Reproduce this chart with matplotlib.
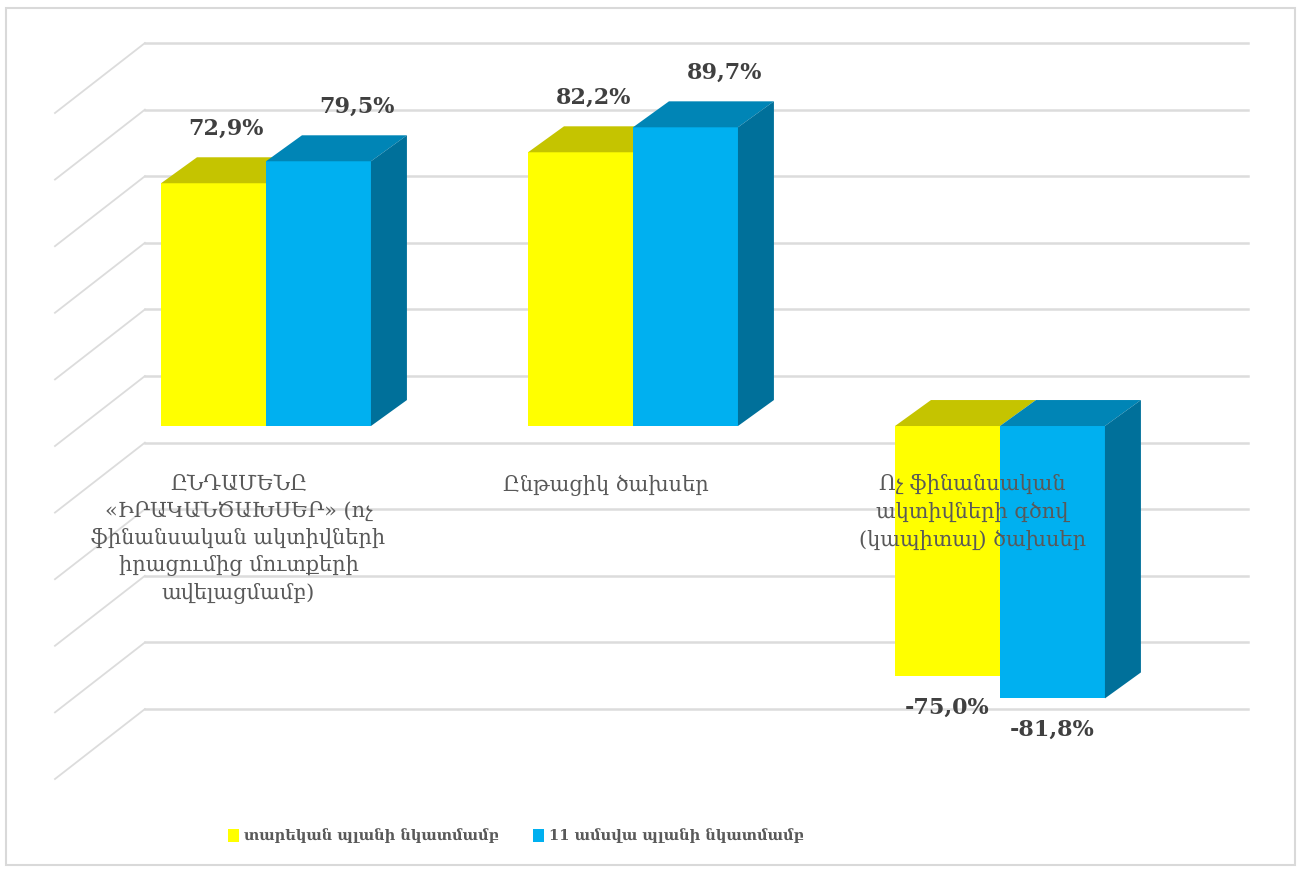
import numpy as np
import matplotlib
matplotlib.use('Agg')
import matplotlib.pyplot as plt
from matplotlib.patches import Polygon, Patch, Rectangle

# data
categories = ['ԸՆԴԱՄԵՆԸ\n«ԻՐԱԿԱՆԾԱԽՍԵՐ» (ոչ\nֆինանսական ակտիվների\nիրացումից մուտքերի\nավելացմամբ)',
              'Ընթացիկ ծախսեր',
              'Ոչ ֆինանսական\nակտիվների գծով\n(կապիտալ) ծախսեր']
annual = [72.9, 82.2, -75.0]
eleven = [79.5, 89.7, -81.8]
series_names = ['տարեկան պլանի նկատմամբ', '11 ամսվա պլանի նկատմամբ']
wall_ticks = [-100, -80, -60, -40, -20, 0, 20, 40, 60, 80, 100]

plt.rcParams['font.family'] = ['DejaVu Serif', 'DejaVu Sans']

yel = dict(front='#FFFF00', top='#C5C400', side='#B0B000')
blu = dict(front='#00B0F0', top='#0085B6', side='#00709A')

W = 0.286          # bar width (category units)
DX, DY = 0.098, 7.8  # bar depth offset
WY = 15.0            # back wall offset
x_wall0, x_wall1 = -0.33, 2.676

fig = plt.figure(figsize=(13.01, 8.69), dpi=100)
ax = fig.add_axes([0, 0, 1, 1])
ax.set_xlim(-0.7248, 2.8202)
ax.set_ylim(-133.03, 127.93)
ax.axis('off')

# outer frame
fig.patches.append(Rectangle((6/1301, 4/869), 1289/1301, 857/869, transform=fig.transFigure,
                             fill=False, ec='#d9d9d9', lw=1.5))

# back wall + side wall gridlines
for g in wall_ticks:
    yw = g + WY
    ax.plot([x_wall0, x_wall1], [yw, yw], color='#dcdcdc', lw=1.8, zorder=1)
    ax.plot([x_wall0, x_wall0 - 0.245], [yw, yw - 21.0], color='#dcdcdc', lw=1.3, zorder=1)

x = np.arange(len(categories))

for i in range(len(categories)):
    # annual (yellow) - front + top
    ax.bar(x[i] - W, annual[i], W, align='edge', color=yel['front'], zorder=3)
    t = max(annual[i], 0)
    ax.add_patch(Polygon([(x[i] - W, t), (x[i], t), (x[i] + DX, t + DY), (x[i] - W + DX, t + DY)],
                         closed=True, fc=yel['top'], ec='none', zorder=3))
    # 11 months (blue) - front + top + side
    ax.bar(x[i], eleven[i], W, align='edge', color=blu['front'], zorder=4)
    t = max(eleven[i], 0)
    ax.add_patch(Polygon([(x[i], t), (x[i] + W, t), (x[i] + W + DX, t + DY), (x[i] + DX, t + DY)],
                         closed=True, fc=blu['top'], ec='none', zorder=4))
    ax.add_patch(Polygon([(x[i] + W, 0), (x[i] + W, eleven[i]), (x[i] + W + DX, eleven[i] + DY),
                          (x[i] + W + DX, DY)], closed=True, fc=blu['side'], ec='none', zorder=4))

def fmt(v):
    return '{:.1f}%'.format(v).replace('.', ',')

for i in range(len(categories)):
    for v, xc, off in [(annual[i], x[i] - W / 2, 0.035), (eleven[i], x[i] + W / 2, 0.106)]:
        if v >= 0:
            ax.text(xc + off, v + 16.3, fmt(v), ha='center', va='center', fontsize=16,
                    fontweight='bold', color='#404040', zorder=6)
        else:
            ax.text(xc, v - 9.5, fmt(v), ha='center', va='center', fontsize=16,
                    fontweight='bold', color='#404040', zorder=6)

for i, lab in enumerate(categories):
    ax.text(x[i] - 0.075, -14.5, lab, ha='center', va='top', fontsize=15, color='#595959',
            linespacing=1.45, zorder=7)

handles = [Patch(fc=yel['front'], ec='none'), Patch(fc=blu['front'], ec='none')]
leg = fig.legend(handles, series_names, loc='center', bbox_to_anchor=(516/1301, 1 - 836/869), ncol=2,
                 frameon=False, prop=dict(weight='bold', size=10.5),
                 labelcolor='#595959', handlelength=0.75, handleheight=1.0,
                 handletextpad=0.35, columnspacing=2.3)

fig.savefig('out.png', dpi=100, facecolor='white')
